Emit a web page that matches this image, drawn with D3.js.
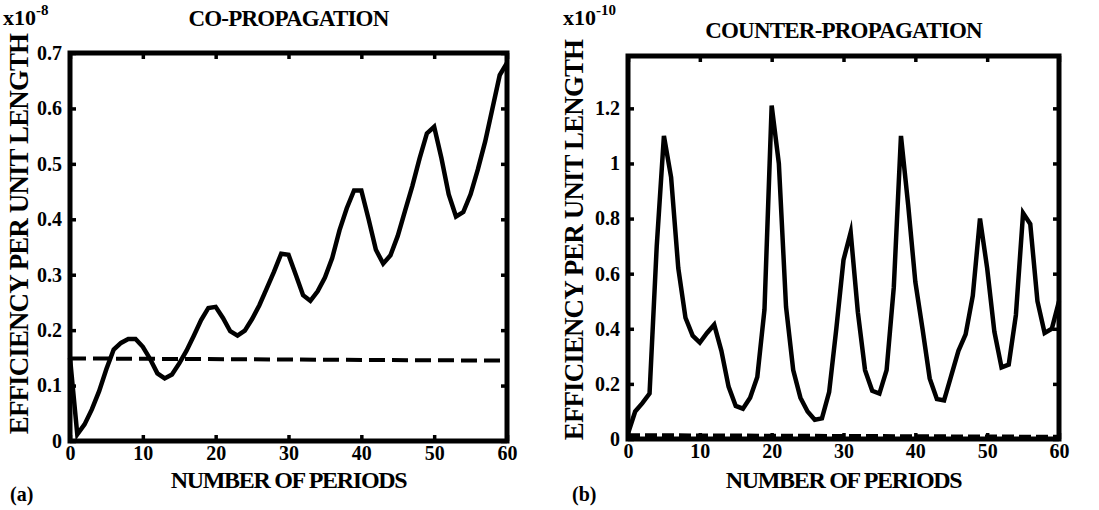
<!DOCTYPE html>
<html><head><meta charset="utf-8">
<script src="https://cdn.jsdelivr.net/npm/d3@7"></script>
<style>
body{margin:0;background:#fff}
svg{display:block}
text{font-family:"Liberation Serif","Times New Roman",serif;font-weight:bold;fill:#000}
</style>
</head><body>
<svg id="chart" width="1099" height="510"></svg>
<script>
const periods = [0,1,2,3,4,5,6,7,8,9,10,11,12,13,14,15,16,17,18,19,20,21,22,23,24,25,26,27,28,29,30,
  31,32,33,34,35,36,37,38,39,40,41,42,43,44,45,46,47,48,49,50,51,52,53,54,55,56,57,58,59,60];
const coEfficiency = [0.15,0.012,0.03,0.057,0.09,0.13,0.165,0.177,0.184,0.184,0.17,
  0.148,0.122,0.113,0.12,0.14,0.163,0.19,0.218,0.24,0.242,
  0.222,0.198,0.19,0.199,0.22,0.245,0.275,0.305,0.338,0.336,
  0.3,0.263,0.253,0.27,0.295,0.33,0.38,0.42,0.452,0.452,
  0.4,0.345,0.32,0.335,0.37,0.415,0.46,0.51,0.555,0.567,
  0.51,0.445,0.405,0.413,0.445,0.49,0.54,0.6,0.66,0.682];
const counterEfficiency = [0.02,0.1,0.13,0.165,0.7,1.1,0.95,0.62,0.44,0.375,0.35,
  0.385,0.415,0.32,0.19,0.12,0.11,0.15,0.225,0.47,1.21,
  1.0,0.48,0.25,0.15,0.1,0.07,0.075,0.17,0.4,0.65,
  0.75,0.46,0.25,0.175,0.165,0.25,0.55,1.1,0.85,0.57,
  0.4,0.22,0.145,0.14,0.23,0.32,0.38,0.52,0.8,0.62,
  0.39,0.26,0.27,0.45,0.82,0.78,0.5,0.385,0.4,0.5];
const thresholdPeriods = [0,60];
const coThreshold = [0.149,0.145];
const counterThreshold = [0.014,0.008];
const xTicks = [0,10,20,30,40,50,60];
const coYTicks = [0,0.1,0.2,0.3,0.4,0.5,0.6,0.7];
const coYTickLabels = ["0","0.1","0.2","0.3","0.4","0.5","0.6","0.7"];
const counterYTicks = [0,0.2,0.4,0.6,0.8,1,1.2];
const counterYTickLabels = ["0","0.2","0.4","0.6","0.8","1","1.2"];
const titles = ["CO-PROPAGATION","COUNTER-PROPAGATION"];
const exponents = ["-8","-10"];
const panelTags = ["(a)","(b)"];
const xTitle = "NUMBER OF PERIODS";
const yTitle = "EFFICIENCY PER UNIT LENGTH";

const svg = d3.select("#chart");

function drawPanel(o){
  const g = svg.append("g");
  const x = d3.scaleLinear().domain([0,60]).range([o.left,o.right]);
  const y = d3.scaleLinear().domain(o.yDomain).range([o.bottom,o.top]);

  const styleAxis = sel => {
    sel.select(".domain").remove();
    sel.selectAll(".tick line").attr("stroke","#000").attr("stroke-width",3.5);
  };
  g.append("g").attr("transform",`translate(0,${o.bottom})`)
    .call(d3.axisBottom(x).tickValues(xTicks).tickSize(-6).tickPadding(5).tickFormat(d3.format("d")))
    .call(styleAxis)
    .call(s=>s.selectAll("text").attr("font-size",20).attr("font-family",null));
  g.append("g").attr("transform",`translate(0,${o.top})`)
    .call(d3.axisTop(x).tickValues(xTicks).tickSize(-6).tickFormat(""))
    .call(styleAxis);
  g.append("g").attr("transform",`translate(${o.left},0)`)
    .call(d3.axisLeft(y).tickValues(o.yTicks).tickSize(-6).tickPadding(8)
      .tickFormat((d,i)=>o.yLabels[i]))
    .call(styleAxis)
    .call(s=>s.selectAll("text").attr("font-size",20).attr("font-family",null));
  g.append("g").attr("transform",`translate(${o.right},0)`)
    .call(d3.axisRight(y).tickValues(o.yTicks).tickSize(-6).tickFormat(""))
    .call(styleAxis);

  const line = d3.line().x(d=>x(d[0])).y(d=>y(d[1]));
  g.append("path")
    .datum(thresholdPeriods.map((p,i)=>[p,o.threshold[i]]))
    .attr("d",line).attr("fill","none").attr("stroke","#000")
    .attr("stroke-width",4).attr("stroke-dasharray",o.dash);

  g.append("path")
    .datum(periods.map((p,i)=>[p,o.values[i]]))
    .attr("d",line).attr("fill","none").attr("stroke","#000")
    .attr("stroke-width",4.5).attr("stroke-linejoin","miter").attr("stroke-miterlimit",6);

  g.append("rect").attr("x",o.left).attr("y",o.top)
    .attr("width",o.right-o.left).attr("height",o.bottom-o.top)
    .attr("fill","none").attr("stroke","#000").attr("stroke-width",5);

  g.append("text").attr("x",(o.left+o.right)/2).attr("y",o.titleY)
    .attr("text-anchor","middle").attr("font-size",23).attr("letter-spacing",-0.8)
    .text(o.title);
  const ex = g.append("text").attr("x",o.expX).attr("y",25).attr("font-size",22);
  ex.append("tspan").text("x10");
  ex.append("tspan").attr("dy",-10).attr("font-size",15).text(o.exponent);

  g.append("text").attr("x",(o.left+o.right)/2).attr("y",488)
    .attr("text-anchor","middle").attr("font-size",24).attr("letter-spacing",-1.3)
    .text(xTitle);
  g.append("text").attr("transform",`translate(${o.yTitleX},${o.yTitleY}) rotate(-90)`)
    .attr("text-anchor","middle").attr("font-size",27).attr("letter-spacing",-0.9)
    .text(yTitle);
  g.append("text").attr("x",o.tagX).attr("y",501).attr("font-size",20).text(o.tag);
}

drawPanel({left:70,right:507,top:53,bottom:441,yDomain:[0,0.7],
  yTicks:coYTicks,yLabels:coYTickLabels,values:coEfficiency,threshold:coThreshold,
  dash:"16,7",title:titles[0],titleY:26,exponent:exponents[0],expX:3,
  yTitleX:28,yTitleY:234,tag:panelTags[0],tagX:10});
drawPanel({left:628,right:1059,top:56,bottom:439,yDomain:[0,1.39],
  yTicks:counterYTicks,yLabels:counterYTickLabels,values:counterEfficiency,threshold:counterThreshold,
  dash:"12,5",title:titles[1],titleY:38,exponent:exponents[1],expX:563,
  yTitleX:583,yTitleY:240,tag:panelTags[1],tagX:572});
</script>
</body></html>
